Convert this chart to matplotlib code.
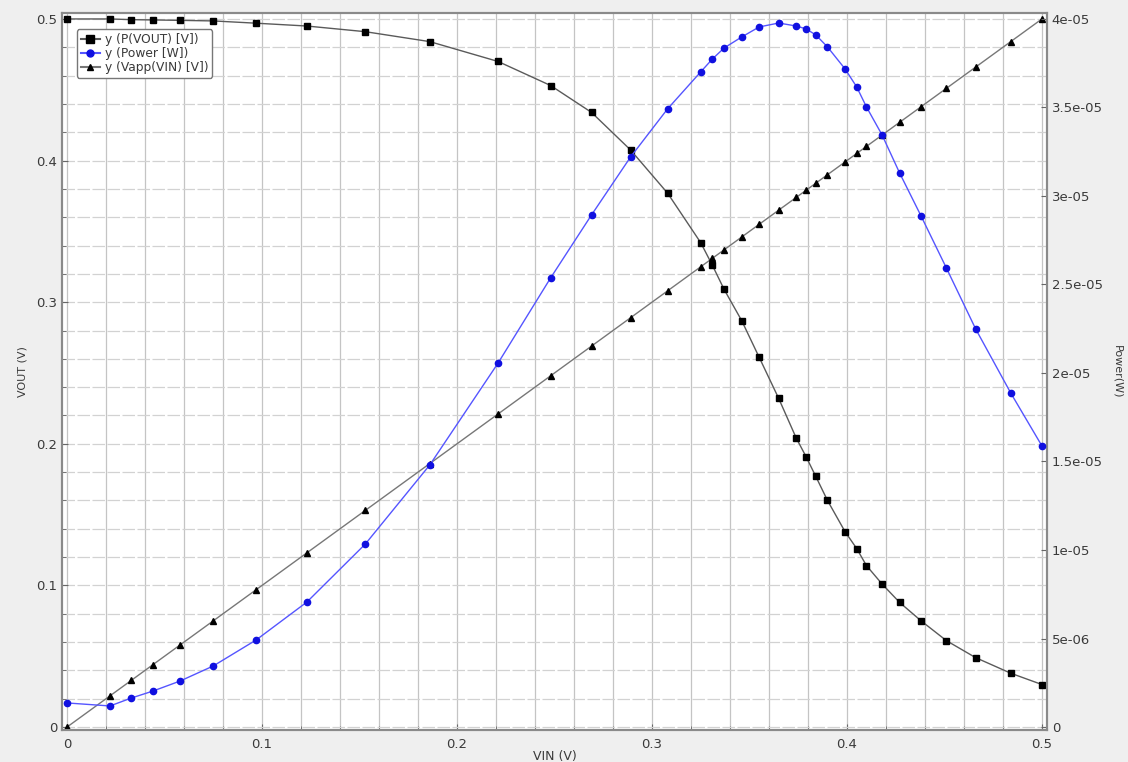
import matplotlib.pyplot as plt
from matplotlib.ticker import MultipleLocator, FixedLocator, FixedFormatter
from matplotlib.lines import Line2D

# sweep points (VIN [V])
vin = [0.0, 0.022, 0.033, 0.044, 0.058, 0.075, 0.097, 0.123, 0.153, 0.186,
       0.221, 0.248, 0.269, 0.289, 0.308, 0.325, 0.331, 0.337, 0.346, 0.355,
       0.365, 0.374, 0.379, 0.384, 0.390, 0.399, 0.405, 0.410, 0.418, 0.427,
       0.438, 0.451, 0.466, 0.484, 0.5]

vout = [0.500, 0.500, 0.4995, 0.4993, 0.499, 0.4986, 0.497, 0.495, 0.491, 0.484,
        0.470, 0.453, 0.434, 0.4075, 0.377, 0.342, 0.326, 0.309, 0.287, 0.261,
        0.232, 0.204, 0.191, 0.177, 0.160, 0.138, 0.126, 0.114, 0.101, 0.088,
        0.075, 0.061, 0.049, 0.038, 0.030]

power = [1.36e-6, 1.19e-6, 1.64e-6, 2.03e-6, 2.60e-6, 3.45e-6, 4.92e-6, 7.06e-6, 1.034e-5, 1.48e-5,
         2.055e-5, 2.537e-5, 2.893e-5, 3.22e-5, 3.492e-5, 3.701e-5, 3.774e-5, 3.836e-5, 3.898e-5, 3.955e-5,
         3.977e-5, 3.96e-5, 3.944e-5, 3.91e-5, 3.842e-5, 3.718e-5, 3.616e-5, 3.503e-5, 3.345e-5, 3.13e-5,
         2.887e-5, 2.593e-5, 2.249e-5, 1.887e-5, 1.588e-5]

vapp = [0.0, 0.022, 0.033, 0.044, 0.058, 0.075, 0.097, 0.123, 0.153, 0.186,
        0.221, 0.248, 0.269, 0.289, 0.308, 0.325, 0.331, 0.337, 0.346, 0.355,
        0.365, 0.374, 0.379, 0.384, 0.390, 0.399, 0.405, 0.410, 0.418, 0.427,
        0.438, 0.451, 0.466, 0.484, 0.5]

x_ticks = [0, 0.1, 0.2, 0.3, 0.4, 0.5]
x_labels = ['0', '0.1', '0.2', '0.3', '0.4', '0.5']
y_ticks = [0, 0.1, 0.2, 0.3, 0.4, 0.5]
y_labels = ['0', '0.1', '0.2', '0.3', '0.4', '0.5']
p_ticks = [0, 5e-6, 1e-5, 1.5e-5, 2e-5, 2.5e-5, 3e-5, 3.5e-5, 4e-5]
p_labels = ['0', '5e-06', '1e-05', '1.5e-05', '2e-05', '2.5e-05', '3e-05', '3.5e-05', '4e-05']

txt = '#3a3a3a'
fig = plt.figure(figsize=(11.28, 7.62), dpi=100, facecolor='#efefef')
ax = fig.add_axes([62/1128, 32/762, 985/1128, 717/762])
ax.set_facecolor('white')

ax.set_xlim(-0.0026, 0.5026)
ax.set_ylim(-0.0021, 0.5042)

# grid
ax.xaxis.set_minor_locator(MultipleLocator(0.02))
ax.yaxis.set_minor_locator(MultipleLocator(0.02))
ax.set_xticks(x_ticks)
ax.set_xticklabels(x_labels)
ax.set_yticks(y_ticks)
ax.set_yticklabels(y_labels)
ax.grid(True, which='both', axis='x', color='#c4c4c4', lw=0.9, ls='-')
ax.grid(True, which='both', axis='y', color='#d2d2d2', lw=0.9, ls=(0, (10, 2)))
ax.set_axisbelow(True)

ax.plot(vin, vout, color='#5a5a5a', lw=1.0, marker='s', ms=5, mfc='black', mec='black',
        label='y (P(VOUT) [V])', zorder=3)
ax.plot(vin, vapp, color='#777777', lw=1.0, marker='^', ms=4.5, mfc='black', mec='black',
        label='y (Vapp(VIN) [V])', zorder=3)

ax2 = ax.twinx()
ax2.set_ylim(-0.0021 * 8e-5, 0.5042 * 8e-5)
ax2.plot(vin, power, color='#5555ff', lw=1.0, marker='o', ms=4.5, mfc='#1010e0', mec='#1010e0',
         label='y (Power [W])', zorder=3)
ax2.yaxis.set_major_locator(FixedLocator(p_ticks))
ax2.yaxis.set_major_formatter(FixedFormatter(p_labels))

for a in (ax, ax2):
    a.tick_params(which='both', direction='in', colors='#666666', labelcolor=txt, labelsize=9.5)
    a.tick_params(which='major', length=4)
    a.tick_params(which='minor', length=3)
    for s in a.spines.values():
        s.set_color('#8a8a8a')
        s.set_linewidth(1.5)
ax.tick_params(axis='x', pad=6)

ax.set_xlabel('VIN (V)', fontsize=9, color=txt, labelpad=-1)
ax.set_ylabel('VOUT (V)', fontsize=8, color=txt, labelpad=6)
ax2.set_ylabel('Power(W)', fontsize=8, color=txt, rotation=-90, labelpad=14)

handles = [
    Line2D([], [], color='#5a5a5a', marker='s', ms=5.5, mfc='black', mec='black'),
    Line2D([], [], color='#5555ff', marker='o', ms=5, mfc='#1010e0', mec='#1010e0'),
    Line2D([], [], color='#777777', marker='^', ms=5, mfc='black', mec='black'),
]
labels = ['y (P(VOUT) [V])', 'y (Power [W])', 'y (Vapp(VIN) [V])']
leg = ax2.legend(handles, labels, loc='upper left', bbox_to_anchor=(0.009, 0.986),
                 fontsize=8.8, handlelength=1.6, handletextpad=0.4, borderpad=0.3,
                 labelspacing=0.1, frameon=True, fancybox=True, framealpha=1,
                 edgecolor='#777777')
for t in leg.get_texts():
    t.set_color(txt)

plt.savefig('out.png', dpi=100, facecolor=fig.get_facecolor())
